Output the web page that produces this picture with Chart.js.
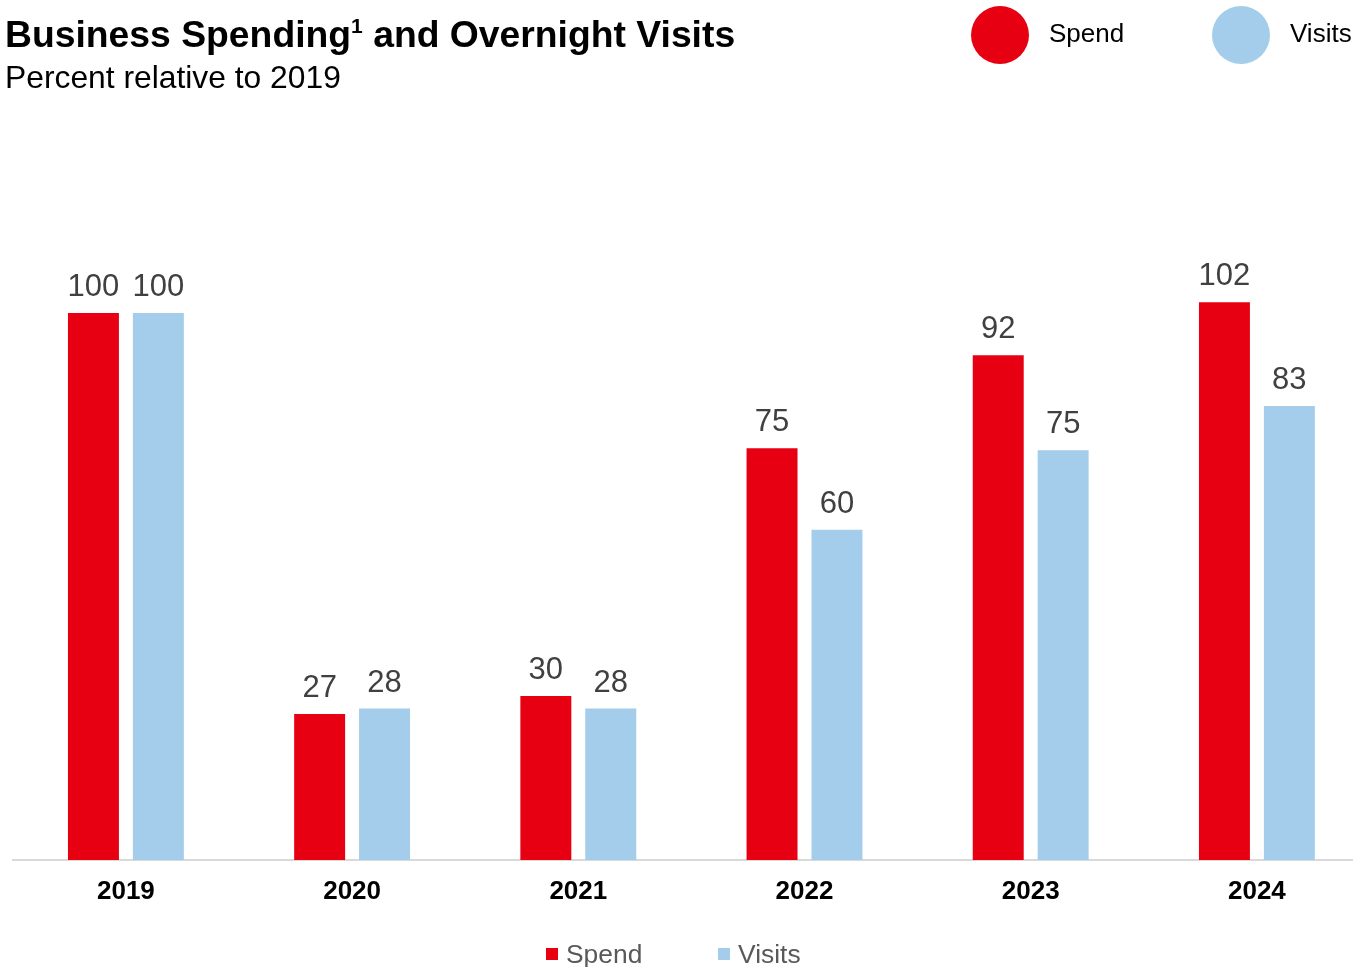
<!DOCTYPE html>
<html>
<head>
<meta charset="utf-8">
<script src="https://cdn.jsdelivr.net/npm/chart.js@4"></script>
<style>
  html, body { margin: 0; padding: 0; background: #fff; overflow: hidden; width: 1353px; height: 967px; }
  body { position: relative; font-family: "Liberation Sans", Arial, sans-serif; }
  #wrap { position: absolute; left: 0; top: 0; width: 1375px; height: 967px; }
  .title { position: absolute; left: 5px; top: 12px; font-size: 37.3px; font-weight: bold; color: #000; white-space: nowrap; line-height: 44px; }
  .title sup { font-size: 21px; vertical-align: 0; position: relative; top: -14px; }
  .subtitle { position: absolute; left: 5px; top: 58px; font-size: 31.8px; color: #000; white-space: nowrap; line-height: 38px; }
  .tl { position: absolute; top: 6px; height: 58px; display: flex; align-items: center; }
  .tl .dot { width: 58px; height: 58px; border-radius: 50%; }
  .tl span { font-size: 26px; color: #000; margin-left: 20px; position: relative; top: -2px; }
  .bl { position: absolute; top: 939px; height: 30px; display: flex; align-items: center; }
  .bl .sq { width: 12px; height: 12px; }
  .bl span { font-size: 26.4px; color: #595959; margin-left: 8px; }
</style>
</head>
<body>
<div id="wrap"><canvas id="c" width="1375" height="967"></canvas></div>
<div class="title">Business Spending<sup>1</sup> and Overnight Visits</div>
<div class="subtitle">Percent relative to 2019</div>
<div class="tl" style="left:971px"><div class="dot" style="background:#E60012"></div><span>Spend</span></div>
<div class="tl" style="left:1212px"><div class="dot" style="background:#A3CDEA"></div><span>Visits</span></div>
<div class="bl" style="left:546px"><div class="sq" style="background:#E60012"></div><span>Spend</span></div>
<div class="bl" style="left:718px"><div class="sq" style="background:#A3CDEA"></div><span>Visits</span></div>
<script>
const years = ["2019", "2020", "2021", "2022", "2023", "2024"];
const spend = [100, 26.7, 30.0, 75.3, 92.3, 102];
const visits = [100, 27.7, 27.7, 60.4, 74.9, 83];
const seriesNames = ["Spend", "Visits"];
const seriesColors = ["#E60012", "#A3CDEA"];

const valueLabels = {
  id: 'valueLabels',
  afterDatasetsDraw(chart) {
    const ctx = chart.ctx;
    ctx.save();
    ctx.font = '31px "Liberation Sans", Arial, sans-serif';
    ctx.fillStyle = '#404040';
    ctx.textAlign = 'center';
    ctx.textBaseline = 'alphabetic';
    chart.data.datasets.forEach((ds, i) => {
      const meta = chart.getDatasetMeta(i);
      meta.data.forEach((bar, j) => {
        ctx.fillText(String(Math.round(ds.data[j])), bar.x, bar.y - 17);
      });
    });
    ctx.restore();
  }
};

new Chart(document.getElementById('c'), {
  type: 'bar',
  data: {
    labels: years,
    datasets: [
      { label: seriesNames[0], data: spend, backgroundColor: seriesColors[0] },
      { label: seriesNames[1], data: visits, backgroundColor: seriesColors[1] }
    ]
  },
  options: {
    responsive: false,
    animation: false,
    events: [],
    categoryPercentage: 0.574,
    barPercentage: 0.785,
    layout: { padding: { left: 12.8, right: 5, top: 149, bottom: 43 } },
    plugins: { legend: { display: false }, title: { display: false }, tooltip: { enabled: false } },
    scales: {
      x: {
        grid: { display: false, drawTicks: false },
        border: { display: true, color: '#D9D9D9', width: 2 },
        ticks: { color: '#000', font: { family: '"Liberation Sans", Arial, sans-serif', size: 26, weight: 'bold' }, padding: 16.4 }
      },
      y: {
        display: false,
        min: 0,
        max: 130
      }
    }
  },
  plugins: [valueLabels]
});
</script>
</body>
</html>
